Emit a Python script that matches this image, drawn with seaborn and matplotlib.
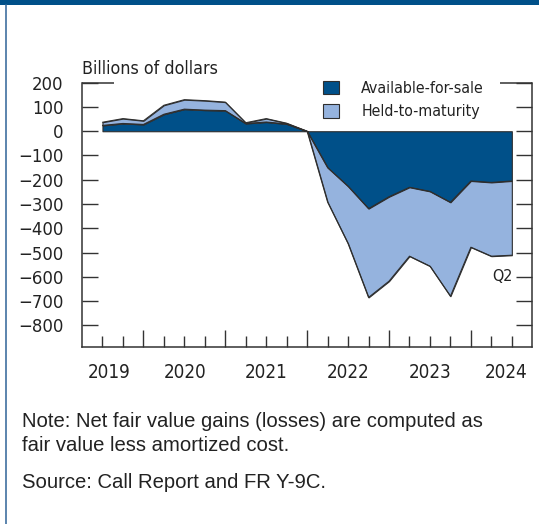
import numpy as np
import pandas as pd
import matplotlib
matplotlib.use("Agg")
import matplotlib.pyplot as plt
import seaborn as sns
from matplotlib.patches import Patch, Rectangle
from matplotlib.lines import Line2D

# ---------------- data (billions of dollars, quarterly 2019:Q2 - 2024:Q2) -------------
quarters = ["2019Q2", "2019Q3", "2019Q4", "2020Q1", "2020Q2", "2020Q3", "2020Q4",
            "2021Q1", "2021Q2", "2021Q3", "2021Q4", "2022Q1", "2022Q2", "2022Q3",
            "2022Q4", "2023Q1", "2023Q2", "2023Q3", "2023Q4", "2024Q1", "2024Q2"]
afs = [24, 32, 28, 70, 91, 87, 85, 32, 38, 30, 0, -150, -227, -319, -270,
       -231, -248, -293, -205, -211, -205]
htm = [13, 20, 15, 37, 39, 39, 35, 3, 14, 3, 0, -142, -236, -366, -348,
       -284, -308, -387, -273, -304, -306]
series_names = ["Available-for-sale", "Held-to-maturity"]
year_labels = ["2019", "2020", "2021", "2022", "2023", "2024"]
year_label_pos = [0.33, 4.05, 8, 12, 16, 19.7]
year_ticks = [2, 6, 10, 14, 18]
yticks = list(range(-800, 201, 100))

# ---------------- style ----------------
sns.set_theme(style="white")
plt.rcParams["font.family"] = ["DejaVu Sans"]
plt.rcParams["font.stretch"] = "condensed"

DARK = "#005089"
LIGHT = "#95b3de"
EDGE = "#2e2e2e"
AXC = "#333333"
TXT = "#222222"

W, H = 539, 524
fig = plt.figure(figsize=(W / 100, H / 100), dpi=100)
fig.patch.set_facecolor("white")


def fx(px):
    return px / W


def fy(py):
    return 1 - py / H


ax_l, ax_r, ax_t, ax_b = 82, 532.3, 82.7, 346.7
ax = fig.add_axes([fx(ax_l), fy(ax_b), fx(ax_r) - fx(ax_l), fy(ax_t) - fy(ax_b)])
ax.set_facecolor("white")

df = pd.DataFrame({"q": quarters, "i": np.arange(len(quarters)),
                   "afs": afs, "htm": htm})
df["total"] = df["afs"] + df["htm"]

ax.fill_between(df["i"], 0, df["afs"], facecolor=DARK, edgecolor=EDGE,
                linewidth=0.8, zorder=2)
ax.fill_between(df["i"], df["afs"], df["total"], facecolor=LIGHT, edgecolor=EDGE,
                linewidth=0.8, zorder=2)
sns.lineplot(data=df, x="i", y="total", color=EDGE, linewidth=0.8, ax=ax, zorder=3)
sns.lineplot(data=df, x="i", y="afs", color=EDGE, linewidth=0.8, ax=ax, zorder=3)
ax.set_xlabel("")
ax.set_ylabel("")

ax.set_xlim(-1, 21)
ax.set_ylim(-888, 200)

# spines
for s in ["left", "right", "bottom"]:
    ax.spines[s].set_color(AXC)
    ax.spines[s].set_linewidth(1.1)
ax.spines["top"].set_visible(False)
ax_w = ax_r - ax_l
for a, b in [(0, (114 - ax_l) / ax_w), ((500 - ax_l) / ax_w, 1)]:
    ax.add_line(Line2D([a, b], [1, 1], transform=ax.transAxes, color=AXC,
                       linewidth=1.1, clip_on=False, solid_capstyle="butt"))

# y ticks
ax.set_yticks(yticks)
ax.set_yticklabels([f"{v}".replace("-", "\u2212") for v in yticks])
ax.tick_params(axis="y", which="major", direction="in", length=11.5, width=1,
               color=AXC, left=True, right=True, labelleft=True, labelright=False,
               pad=13.5, labelsize=13.2, labelcolor=TXT)

# x ticks
ax.set_xticks(year_ticks)
ax.set_xticks([i for i in range(len(quarters)) if i not in year_ticks], minor=True)
ax.set_xticklabels([])
ax.tick_params(axis="x", which="major", direction="in", length=12, width=1,
               color=AXC, bottom=True, top=False)
ax.tick_params(axis="x", which="minor", direction="in", length=8, width=1,
               color=AXC, bottom=True, top=False)
ax_h = ax_b - ax_t
for pos, lab in zip(year_label_pos, year_labels):
    ax.text(pos, -(377.5 - ax_b) / ax_h, lab, transform=ax.get_xaxis_transform(),
            ha="center", va="baseline", fontsize=13.5, color=TXT)

ax.text(20.05, -600, "Q2", ha="right", va="center", fontsize=11.5, color=TXT)

# unit label
fig.text(fx(82), fy(73.5), "Billions of dollars", ha="left", va="baseline",
         fontsize=12.8, color=TXT)

# legend
LFS = 11.4
lfs_px = LFS * 100 / 72
handles = [Patch(facecolor=DARK, edgecolor=EDGE, linewidth=0.8),
           Patch(facecolor=LIGHT, edgecolor=EDGE, linewidth=0.8)]
leg = ax.legend(handles, series_names, loc="upper left",
                bbox_to_anchor=(fx(323.3), fy(80.5)), bbox_transform=fig.transFigure,
                frameon=False, borderpad=0, borderaxespad=0, fontsize=LFS,
                handlelength=16 / lfs_px, handleheight=15 / lfs_px,
                handletextpad=22 / lfs_px, labelspacing=0.52)
for t in leg.get_texts():
    t.set_color(TXT)

# notes
note_font = ["Liberation Sans", "DejaVu Sans"]
for y, s in [(427, "Note: Net fair value gains (losses) are computed as"),
             (451, "fair value less amortized cost."),
             (488.5, "Source: Call Report and FR Y-9C.")]:
    fig.text(fx(22), fy(y), s, fontsize=14.6, family=note_font, stretch="normal",
             color=TXT, va="baseline")

# frame decorations
fig.patches.append(Rectangle((0, fy(5)), 1, 1 - fy(5), transform=fig.transFigure,
                             facecolor=DARK, edgecolor="none"))
fig.add_artist(Line2D([fx(5.8), fx(5.8)], [0, fy(5)], transform=fig.transFigure,
                      color="#3f6f9f", linewidth=1.2))

fig.savefig("out.png", dpi=100)
